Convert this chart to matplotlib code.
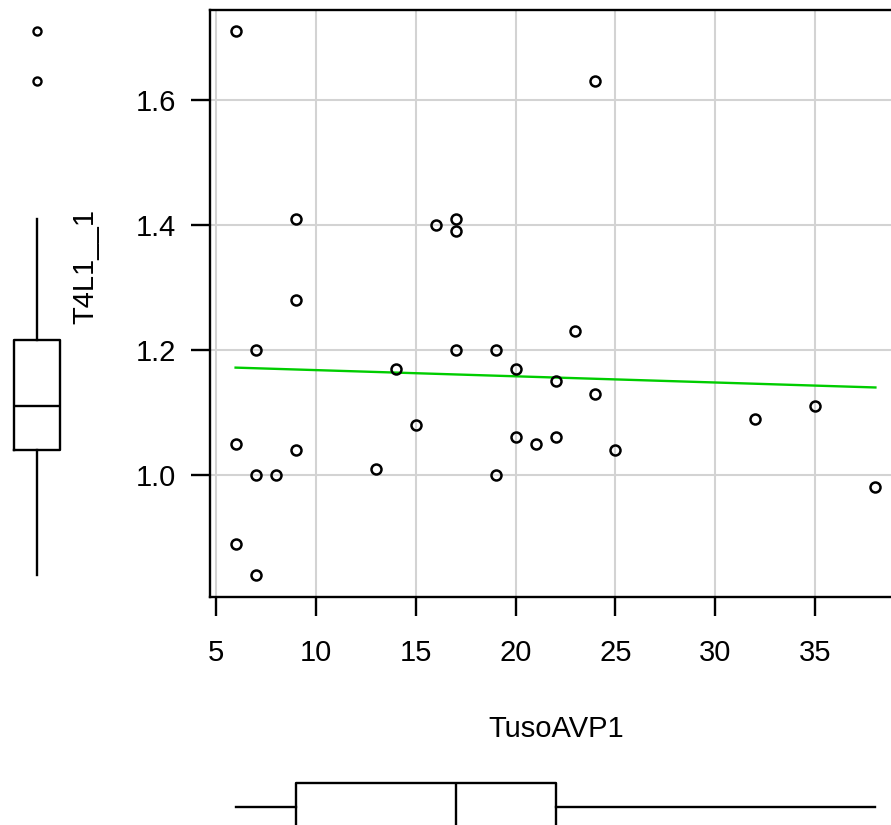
import numpy as np
import matplotlib
matplotlib.use("Agg")
import matplotlib.pyplot as plt

plt.rcParams['font.family'] = ['Liberation Sans', 'DejaVu Sans']

# TusoAVP1 vs T4L1__1
tuso = [6, 24, 9, 16, 17, 17, 9, 7, 17, 19, 14, 20, 23, 22, 24, 6,
        9, 15, 13, 7, 8, 19, 20, 21, 22, 25, 32, 35, 38, 6, 7]
t4l1 = [1.71, 1.63, 1.41, 1.40, 1.41, 1.39, 1.28, 1.20, 1.20, 1.20, 1.17,
        1.17, 1.23, 1.15, 1.13, 1.05, 1.04, 1.08, 1.01, 1.00, 1.00, 1.00,
        1.06, 1.05, 1.06, 1.04, 1.09, 1.11, 0.98, 0.89, 0.84]
xticks = [5, 10, 15, 20, 25, 30, 35]
yticks = [1.0, 1.2, 1.4, 1.6]

x = np.array(tuso, dtype=float)
y = np.array(t4l1)

W, H = 891, 825
fig = plt.figure(figsize=(W / 100, H / 100), dpi=100)

def px(l, t, w, h):
    # pixel box (left, top, width, height) -> figure fraction
    return [l / W, (H - t - h) / H, w / W, h / H]

xlo, xhi = x.min() - 0.04 * np.ptp(x), x.max() + 0.04 * np.ptp(x)
ylo, yhi = y.min() - 0.04 * np.ptp(y), y.max() + 0.04 * np.ptp(y)

LW = 1.7

ax = fig.add_axes(px(210, 9.5, 691, 587))
ax.set_xlim(xlo, xhi)
ax.set_ylim(ylo, yhi)
ax.set_xticks(xticks)
ax.set_yticks(yticks)
ax.set_yticklabels(["%.1f" % v for v in yticks])
ax.grid(True, color='#d3d3d3', lw=1.5)
ax.set_axisbelow(True)
for s in ax.spines.values():
    s.set_linewidth(LW)
ax.tick_params(axis='both', length=13.7, width=LW, labelsize=21)
ax.tick_params(axis='y', pad=11)
ax.tick_params(axis='x', pad=17)

ax.plot(x, y, 'o', ms=7.2, mfc='none', mec='black', mew=1.8, zorder=3)

# least squares line
b, a = np.polyfit(x, y, 1)
xs = np.array([x.min(), x.max()])
ax.plot(xs, a + b * xs, color='#00cd00', lw=LW, zorder=2)

fig.text(85 / W, 1 - 266 / H, "T4L1__1", rotation=90, ha='center',
         va='center', fontsize=21)
fig.text(556 / W, 1 - 737 / H, "TusoAVP1", ha='center', va='baseline',
         fontsize=21)

bp_style = dict(whis=1.5, showcaps=False, patch_artist=False,
                boxprops=dict(lw=LW), whiskerprops=dict(lw=LW),
                medianprops=dict(color='black', lw=LW),
                flierprops=dict(marker='o', ms=5.8, mfc='none',
                                mec='black', mew=1.7))

# left marginal boxplot
axl = fig.add_axes(px(0, 9.5, 74, 587))
axl.boxplot(y, positions=[0], widths=1.22, **bp_style)
axl.set_xlim(-1, 1)
axl.set_ylim(ylo, yhi)
axl.axis('off')

# bottom marginal boxplot
axb = fig.add_axes(px(210, 760, 691, 93))
axb.boxplot(x, positions=[0], widths=1.01, vert=False, **bp_style)
axb.set_xlim(xlo, xhi)
axb.set_ylim(-1, 1)
axb.axis('off')

fig.savefig("out.png", dpi=100)
